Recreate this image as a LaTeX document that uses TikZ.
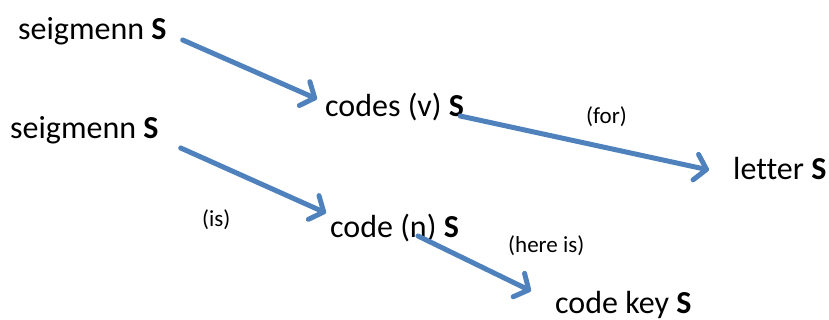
\documentclass[tikz,border=0pt]{standalone}
\usepackage{fontspec}
\setmainfont[Ligatures=NoCommon]{Carlito}
\usetikzlibrary{arrows.meta,calc}
\definecolor{arrowblue}{HTML}{4F81BD}
\tikzset{
  big/.style={inner sep=0pt, anchor=base west, font=\fontsize{32}{36}\selectfont},
  small/.style={inner sep=0pt, anchor=base west, font=\fontsize{23}{26}\selectfont},
  conn/.style={draw=arrowblue, line width=5pt, line cap=round,
    -{Straight Barb[length=11pt,width=26pt,round]}},
}
\begin{document}
\begin{tikzpicture}[x=1pt,y=-1pt]
\useasboundingbox (0,0) rectangle (829,320);
\node[big] (s1) at (18,40) {seigmenn \textbf{S}};
\node[big] (s2) at (10,139) {seigmenn \textbf{S}};
\node[big] (cv) at (325,117) {codes (v) \textbf{S}};
\node[big] (lt) at (733,180) {letter \textbf{S}};
\node[big] (cn) at (330,237) {code (n) \textbf{S}};
\node[big] (ck) at (555,313) {code key \textbf{S}};
\node[small] (for) at (586,124) {(for)};
\node[small] (is) at (202,226) {(is)};
\node[small] (here) at (508,252) {(here is)};
\coordinate (a1s) at ($(s1.base east)+(16,0)$);
\coordinate (a1e) at ($(cv.base west)+(-8,-18)$);
\coordinate (a2s) at ($(cv.base east)+(-4,-1)$);
\coordinate (a2e) at ($(lt.base west)+(-24,-10)$);
\coordinate (a3s) at ($(s2.base east)+(22,9)$);
\coordinate (a3e) at ($(cn.base west)+(-4,-24)$);
\coordinate (a4s) at ($(cn.base west)+(88,-1)$);
\coordinate (a4e) at ($(ck.base west)+(-24,-22)$);
\draw[conn] (a1s) -- (a1e);
\draw[conn] (a2s) -- (a2e);
\draw[conn] (a3s) -- (a3e);
\draw[conn] (a4s) -- (a4e);
\end{tikzpicture}
\end{document}
